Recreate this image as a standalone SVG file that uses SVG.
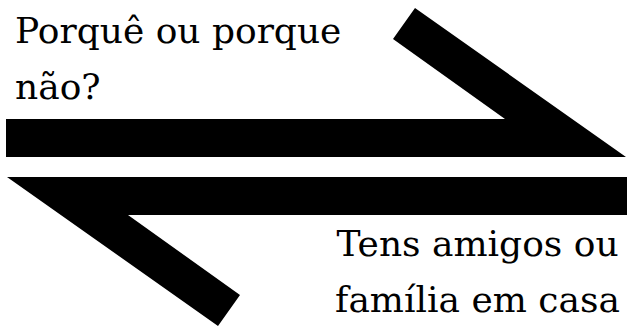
<svg xmlns="http://www.w3.org/2000/svg" width="627" height="326" viewBox="0 0 627 326">
<style>
.arrow{fill:#000}
.lbl{font-family:"DejaVu Serif","Liberation Serif",serif;font-size:36px;fill:#000}
</style>
<rect width="627" height="326" fill="#fff"/>
<g id="connectors">
<polygon id="arrow-right" class="arrow" points="6,119 505,119 393,39 415,8 626,157 6,157"/>
<polygon id="arrow-left" class="arrow" points="627,215 128,215 240,295 218,326 7,177 627,177"/>
</g>
<g id="node-top">
<text class="lbl" x="15" y="43">Porquê ou porque</text>
<text class="lbl" x="15" y="99">não?</text>
</g>
<g id="node-bottom">
<text class="lbl" x="477.5" y="256" text-anchor="middle">Tens amigos ou</text>
<text class="lbl" x="477.5" y="312" text-anchor="middle">família em casa</text>
</g>
</svg>
